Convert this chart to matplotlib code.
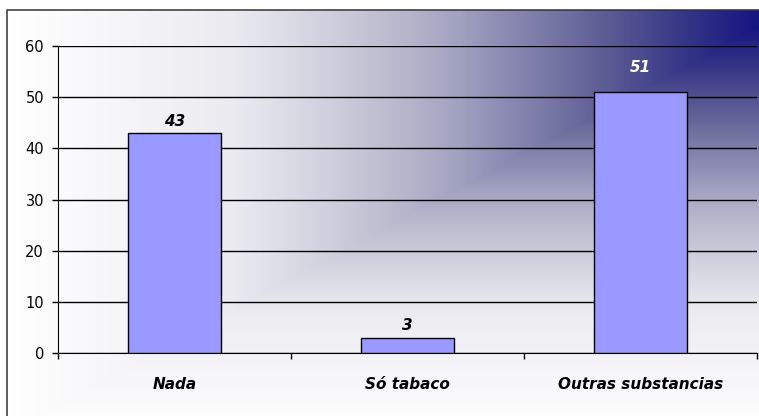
import numpy as np
import matplotlib
matplotlib.use("Agg")
import matplotlib.pyplot as plt
from matplotlib.colors import LinearSegmentedColormap

# data
categories = ["Nada", "Só tabaco", "Outras substancias"]
values = [43, 3, 51]
label_colors = ["black", "black", "white"]
yticks = [0, 10, 20, 30, 40, 50, 60]

W, H = 759, 416
fig = plt.figure(figsize=(W / 100, H / 100), dpi=100)

# background: Excel style "from corner" gradient, dark corner top right
bg = fig.add_axes([0, 0, 1, 1])
bg.set_xlim(0, W)
bg.set_ylim(0, H)
bg.axis("off")
stops = [
    (0.00, (255, 255, 255)),
    (0.15, (246, 246, 249)),
    (0.30, (234, 234, 240)),
    (0.39, (216, 216, 228)),
    (0.52, (185, 185, 205)),
    (0.59, (165, 165, 195)),
    (0.66, (140, 140, 180)),
    (0.72, (120, 120, 165)),
    (0.79, (95, 95, 150)),
    (0.90, (55, 55, 135)),
    (1.00, (22, 22, 130)),
]
cmap = LinearSegmentedColormap.from_list(
    "corner", [(p, tuple(c / 255 for c in rgb)) for p, rgb in stops])
x0, top = 7, H - 10
xs = np.linspace(x0, W, 400)
ys = np.linspace(0, top, 250)
gx, gy = np.meshgrid(xs, ys)
th = (gx - x0) / (W - x0)
tv = gy / top + 0.04
t = np.clip(np.minimum(th, tv), 0, 1)
bg.imshow(t, cmap=cmap, vmin=0, vmax=1, origin="lower",
          extent=[x0, W, 0, top], aspect="auto", interpolation="bilinear")
# outer frame (left and top edges visible)
bg.plot([x0, x0, W], [0, top, top], color="#333333", lw=1.1)

# plot area in pixels: left 58, right 757, top 46, bottom 353
ax = fig.add_axes([58 / W, (H - 353) / H, (757 - 58) / W, (353 - 46) / H])
ax.set_facecolor("none")

pos = np.arange(len(categories))
bars = ax.bar(pos, values, width=0.4, color="#9999FF", edgecolor="black",
              linewidth=1, zorder=3)
lift = [3, 3, 12]
for b, v, c, dy in zip(bars, values, label_colors, lift):
    ax.annotate(str(v), (b.get_x() + b.get_width() / 2, v),
                xytext=(0, dy), textcoords="offset points",
                ha="center", va="bottom", fontsize=11,
                fontweight="bold", fontstyle="italic", color=c)

ax.set_xlim(-0.5, len(categories) - 0.5)
ax.set_ylim(0, 60)
ax.set_yticks(yticks)
ax.yaxis.grid(True, color="black", lw=1, zorder=1)
ax.set_axisbelow(True)
ax.tick_params(axis="y", length=4, width=1, pad=6, labelsize=10.5)

ax.set_xticks(pos)
ax.set_xticklabels(categories, fontsize=11, fontweight="bold",
                   fontstyle="italic")
ax.set_xticks(np.arange(-0.5, len(categories)), minor=True)
ax.tick_params(axis="x", which="major", length=0, pad=17)
ax.tick_params(axis="x", which="minor", length=4, width=1)

for s in ["top", "right"]:
    ax.spines[s].set_visible(False)
ax.spines["left"].set_color("black")
ax.spines["bottom"].set_color("black")

fig.savefig("out.png", dpi=100)
